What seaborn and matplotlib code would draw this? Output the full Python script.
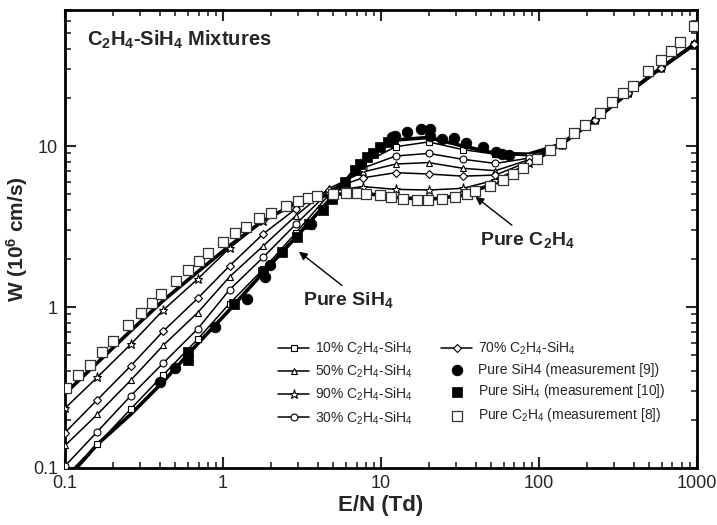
import numpy as np
import pandas as pd
import matplotlib
matplotlib.use("Agg")
import matplotlib.pyplot as plt
from matplotlib.ticker import NullFormatter
import seaborn as sns

# E/N grid where the calculated curves were sampled (Td)
en_grid = [0.1, 0.16, 0.26, 0.42, 0.69, 1.1, 1.8, 2.9, 4.7, 7.7,
           12.4, 20, 33, 53, 86, 139, 225, 365, 590, 955]

# calculated drift velocities W (10^6 cm/s)
w_sih4 = [0.083, 0.14, 0.215, 0.345, 0.59, 0.96, 1.64, 2.72, 4.6, 8.2,
          10.9, 11.3, 10.0, 9.0, 8.9, 10.3, 14.5, 21.3, 30.5, 42.5]
w_c2h4 = [0.29, 0.45, 0.71, 1.1, 1.65, 2.4, 3.45, 4.4, 5.0, 5.1,
          4.8, 4.65, 4.95, 5.9, 7.7, 10.3, 14.5, 21.3, 30.5, 42.5]
w_10 = [0.088, 0.14, 0.232, 0.38, 0.63, 1.05, 1.72, 2.9, 5.0, 7.8,
        9.9, 10.6, 9.5, 8.9, 8.7, 10.3, 14.6, 21.4, 30.6, 42.8]
w_30 = [0.103, 0.168, 0.28, 0.45, 0.73, 1.28, 2.04, 3.28, 5.2, 7.3,
        8.67, 9.0, 8.27, 7.8, 8.4, 10.2, 14.6, 21.4, 30.6, 42.8]
w_50 = [0.138, 0.215, 0.35, 0.58, 0.92, 1.54, 2.4, 3.7, 5.45, 6.9,
        7.73, 7.89, 7.27, 7.03, 8.2, 10.2, 14.6, 21.4, 30.6, 42.8]
w_70 = [0.166, 0.265, 0.43, 0.71, 1.13, 1.8, 2.85, 4.08, 5.35, 6.35,
        6.83, 6.7, 6.5, 6.6, 8.0, 10.1, 14.6, 21.4, 30.6, 42.8]
w_90 = [0.235, 0.366, 0.585, 0.96, 1.49, 2.32, 3.42, 4.45, 5.25, 5.6,
        5.38, 5.33, 5.46, 6.15, 7.8, 10.1, 14.6, 21.4, 30.6, 42.8]

# measurements
c2h4_meas_x = [0.102, 0.121, 0.143, 0.171, 0.20, 0.252, 0.301, 0.354, 0.403, 0.505,
               0.603, 0.708, 0.807, 1.0, 1.19, 1.4, 1.7, 2.0, 2.5, 3.0,
               3.47, 3.95, 5.0, 6.0, 7.0, 8.0, 9.9, 11.6, 13.8, 16.8,
               19.9, 24.2, 29.4, 34.8, 39.3, 49, 59.4, 68.7, 79.6, 96.7,
               117, 137, 167, 196, 245, 292, 341, 392, 487, 589,
               684, 780, 955]
c2h4_meas_y = [0.313, 0.378, 0.437, 0.525, 0.617, 0.773, 0.914, 1.06, 1.2, 1.46,
               1.7, 1.94, 2.18, 2.55, 2.87, 3.16, 3.56, 3.86, 4.24, 4.55,
               4.78, 4.92, 5.03, 5.08, 5.1, 5.02, 4.95, 4.82, 4.69, 4.63,
               4.63, 4.69, 4.85, 5.02, 5.28, 5.64, 6.15, 6.7, 7.27, 8.27,
               9.44, 10.5, 12.1, 13.5, 16.1, 18.7, 21.2, 23.6, 29.2, 34.2,
               38.9, 44.5, 55.6]
sih4_9_x = [0.4, 0.5, 0.89, 1.41, 1.85, 1.98, 3.58, 4.9, 11.7, 12.3,
            14.7, 17.8, 20.5, 20.5, 24.5, 29.2, 34.3, 44.2, 53.5, 58, 65]
sih4_9_y = [0.34, 0.416, 0.755, 1.12, 1.54, 1.82, 3.3, 4.75, 11.4, 11.5,
            12.3, 12.7, 12.7, 11.6, 11.0, 11.25, 10.5, 9.8, 9.15, 8.95, 8.75]
sih4_10_x = [0.6, 0.6, 1.17, 1.8, 2.35, 2.93, 3.5, 4.3, 4.9, 5.9,
             6.85, 7.4, 8.1, 8.9, 9.9, 11.1, 12.0]
sih4_10_y = [0.47, 0.525, 1.05, 1.66, 2.2, 2.73, 3.3, 4.0, 4.7, 6.0,
             7.1, 7.7, 8.5, 9.1, 9.8, 10.6, 11.0]

sns.set_style("ticks")
plt.rcParams['font.family'] = ['Liberation Sans', 'DejaVu Sans']
plt.rcParams['mathtext.default'] = 'regular'

fig, ax = plt.subplots(figsize=(7.17, 5.25), dpi=100)
fig.subplots_adjust(left=0.0907, right=0.972, bottom=0.1086, top=0.981)

# pure gases: thick lines, no markers
sns.lineplot(x=en_grid, y=w_c2h4, ax=ax, color='black', lw=2.6, label='_nolegend_', zorder=3)
sns.lineplot(x=en_grid, y=w_sih4, ax=ax, color='black', lw=2.6, label='_nolegend_', zorder=3)

mix = [('10%', w_10, 's'), ('50%', w_50, '^'), ('90%', w_90, '*'),
       ('30%', w_30, 'o'), ('70%', w_70, 'D')]
msz = {'s': 4.5, '^': 5, '*': 6.5, 'o': 5, 'D': 4.2}
for pct, vals, mk in mix:
    sns.lineplot(x=en_grid, y=vals, ax=ax, color='black', lw=1.1,
                 marker=mk, markersize=msz[mk], markerfacecolor='white',
                 markeredgecolor='black', markeredgewidth=0.8,
                 label=f'{pct} C$_2$H$_4$-SiH$_4$', zorder=4)

sns.scatterplot(x=sih4_9_x, y=sih4_9_y, ax=ax, marker='o', s=58, color='black',
                edgecolor='black', label='Pure SiH4 (measurement [9])', zorder=5)
sns.scatterplot(x=sih4_10_x, y=sih4_10_y, ax=ax, marker='s', s=42, color='black',
                edgecolor='black', label='Pure SiH$_4$ (measurement [10])', zorder=5)
sns.scatterplot(x=c2h4_meas_x, y=c2h4_meas_y, ax=ax, marker='s', s=60, color='white',
                edgecolor='#333333', linewidth=0.9,
                label='Pure C$_2$H$_4$ (measurement [8])', zorder=5)

ax.set_xscale('log')
ax.set_yscale('log')
ax.set_xlim(0.1, 1000)
ax.set_ylim(0.1, 70)
ax.set_xticks([0.1, 1, 10, 100, 1000], labels=['0.1', '1', '10', '100', '1000'])
ax.set_yticks([0.1, 1, 10], labels=['0.1', '1', '10'])
ax.xaxis.set_minor_formatter(NullFormatter())
ax.yaxis.set_minor_formatter(NullFormatter())
ax.tick_params(which='both', direction='in', top=True, right=True, labelsize=13)
ax.tick_params(which='major', length=8, width=1.5, pad=5)
ax.tick_params(which='minor', length=4, width=1.2)
for sp in ax.spines.values():
    sp.set_linewidth(2)
    sp.set_color('black')

ax.set_xlabel('E/N (Td)', fontsize=16, fontweight='bold', labelpad=2)
ax.set_ylabel('W (10$^6$ cm/s)', fontsize=15, fontweight='bold', labelpad=2)

ax.text(0.035, 0.934, 'C$_2$H$_4$-SiH$_4$ Mixtures', transform=ax.transAxes,
        fontsize=14.5, fontweight='bold', va='center', ha='left')

arrow = dict(arrowstyle='-|>', color='black', lw=1.0, mutation_scale=12, relpos=(0.5, 1.0))
ax.annotate('Pure SiH$_4$', xy=(2.93, 2.26), xytext=(6.2, 1.1), ha='center', va='center',
            fontsize=14, fontweight='bold', arrowprops=arrow)
ax.annotate('Pure C$_2$H$_4$', xy=(38.4, 4.96), xytext=(85, 2.6), ha='center', va='center',
            fontsize=14, fontweight='bold', arrowprops=dict(arrow, relpos=(0.4, 1.0)))

ax.legend(ncol=2, loc='upper left', bbox_to_anchor=(0.318, 0.308), frameon=False,
          fontsize=10, handlelength=2.2, handletextpad=0.4, columnspacing=2.1,
          labelspacing=0.42)

fig.savefig('out.png', dpi=100)
